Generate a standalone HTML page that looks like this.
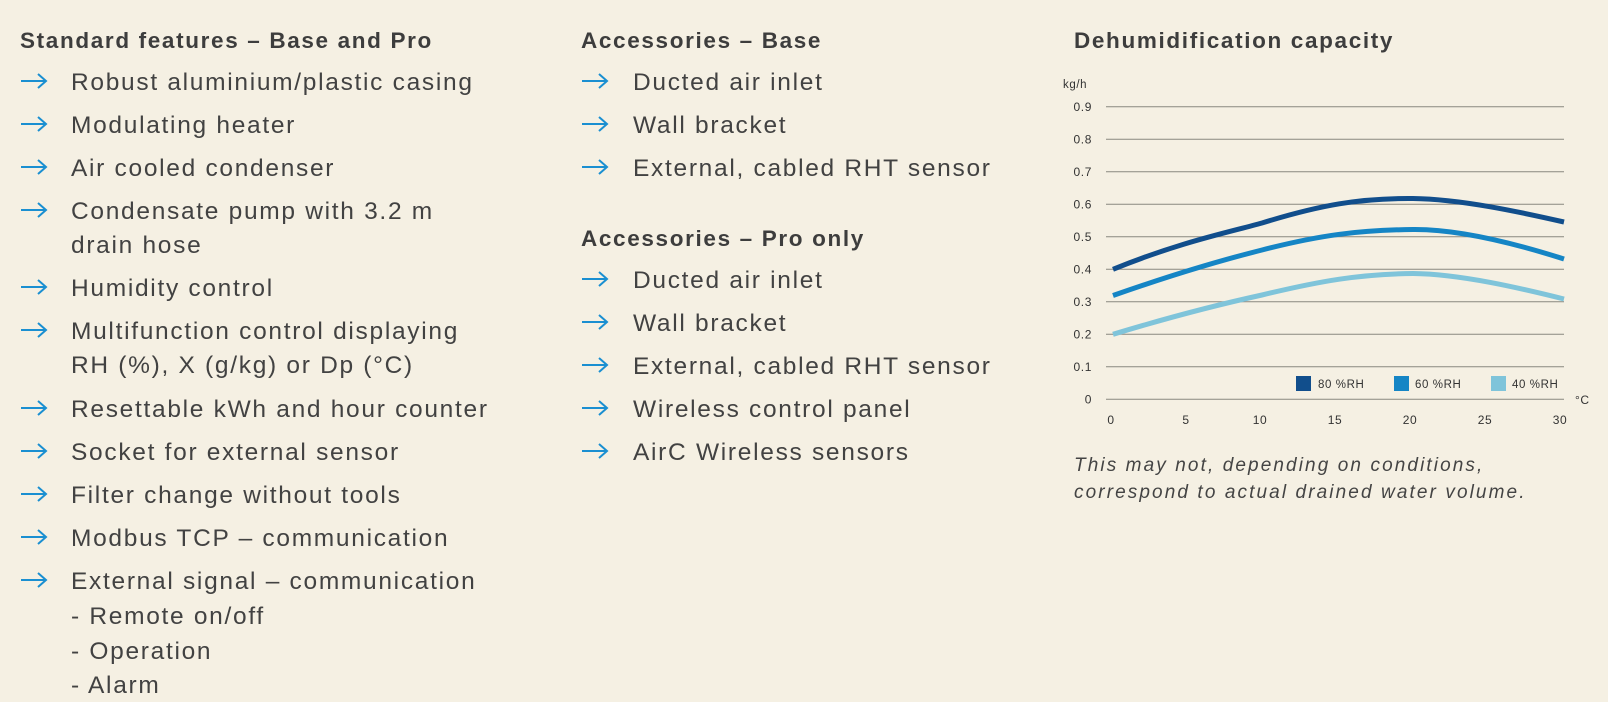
<!DOCTYPE html>
<html><head><meta charset="utf-8"><style>
body{margin:0;width:1608px;height:702px;background:#f5f0e3;font-family:"Liberation Sans",sans-serif;color:#424242;position:relative;overflow:hidden}
.t{position:absolute;height:30px;line-height:30px;white-space:nowrap;font-size:24.5px;letter-spacing:1.7px}
.h{position:absolute;height:30px;line-height:30px;white-space:nowrap;font-size:22.5px;font-weight:bold;color:#3d3d3d;letter-spacing:1.65px}
.a{position:absolute;width:28px;height:16px}
</style></head><body>
<div class="h" style="left:20px;top:26px">Standard features – Base and Pro</div>
<div class="h" style="left:581px;top:26px">Accessories – Base</div>
<div class="h" style="left:581px;top:224px">Accessories – Pro only</div>
<div class="h" style="left:1074px;top:26px">Dehumidification capacity</div>

<svg width="0" height="0" style="position:absolute"><defs><g id="ar"><path d="M1 8H26M18 1L26 8L18 15" fill="none" stroke="#1a8fd1" stroke-width="2"/></g></defs></svg>

<svg class="a" style="left:20px;top:73px"><use href="#ar"/></svg><div class="t" style="left:71px;top:68px">Robust aluminium/plastic casing</div>
<svg class="a" style="left:20px;top:116px"><use href="#ar"/></svg><div class="t" style="left:71px;top:111px">Modulating heater</div>
<svg class="a" style="left:20px;top:159px"><use href="#ar"/></svg><div class="t" style="left:71px;top:154px">Air cooled condenser</div>
<svg class="a" style="left:20px;top:202px"><use href="#ar"/></svg><div class="t" style="left:71px;top:197px">Condensate pump with 3.2 m</div>
<div class="t" style="left:71px;top:231px">drain hose</div>
<svg class="a" style="left:20px;top:279px"><use href="#ar"/></svg><div class="t" style="left:71px;top:274px">Humidity control</div>
<svg class="a" style="left:20px;top:322px"><use href="#ar"/></svg><div class="t" style="left:71px;top:317px">Multifunction control displaying</div>
<div class="t" style="left:71px;top:351px">RH (%), X (g/kg) or Dp (°C)</div>
<svg class="a" style="left:20px;top:400px"><use href="#ar"/></svg><div class="t" style="left:71px;top:395px">Resettable kWh and hour counter</div>
<svg class="a" style="left:20px;top:443px"><use href="#ar"/></svg><div class="t" style="left:71px;top:438px">Socket for external sensor</div>
<svg class="a" style="left:20px;top:486px"><use href="#ar"/></svg><div class="t" style="left:71px;top:481px">Filter change without tools</div>
<svg class="a" style="left:20px;top:529px"><use href="#ar"/></svg><div class="t" style="left:71px;top:524px">Modbus TCP – communication</div>
<svg class="a" style="left:20px;top:572px"><use href="#ar"/></svg><div class="t" style="left:71px;top:567px">External signal – communication</div>
<div class="t" style="left:71px;top:602px">- Remote on/off</div>
<div class="t" style="left:71px;top:637px">- Operation</div>
<div class="t" style="left:71px;top:671px">- Alarm</div>

<svg class="a" style="left:581px;top:73px"><use href="#ar"/></svg><div class="t" style="left:633px;top:68px">Ducted air inlet</div>
<svg class="a" style="left:581px;top:116px"><use href="#ar"/></svg><div class="t" style="left:633px;top:111px">Wall bracket</div>
<svg class="a" style="left:581px;top:159px"><use href="#ar"/></svg><div class="t" style="left:633px;top:154px">External, cabled RHT sensor</div>
<svg class="a" style="left:581px;top:271px"><use href="#ar"/></svg><div class="t" style="left:633px;top:266px">Ducted air inlet</div>
<svg class="a" style="left:581px;top:314px"><use href="#ar"/></svg><div class="t" style="left:633px;top:309px">Wall bracket</div>
<svg class="a" style="left:581px;top:357px"><use href="#ar"/></svg><div class="t" style="left:633px;top:352px">External, cabled RHT sensor</div>
<svg class="a" style="left:581px;top:400px"><use href="#ar"/></svg><div class="t" style="left:633px;top:395px">Wireless control panel</div>
<svg class="a" style="left:581px;top:443px"><use href="#ar"/></svg><div class="t" style="left:633px;top:438px">AirC Wireless sensors</div>

<svg style="position:absolute;left:0;top:0" width="1608" height="702" font-family="Liberation Sans, sans-serif" font-size="12" fill="#333" letter-spacing="0.6">
<g stroke="#8a8780" stroke-width="1">
<line x1="1106" x2="1564" y1="106.7" y2="106.7"/><line x1="1106" x2="1564" y1="139.3" y2="139.3"/>
<line x1="1106" x2="1564" y1="171.8" y2="171.8"/><line x1="1106" x2="1564" y1="204.3" y2="204.3"/>
<line x1="1106" x2="1564" y1="236.8" y2="236.8"/><line x1="1106" x2="1564" y1="269.3" y2="269.3"/>
<line x1="1106" x2="1564" y1="301.8" y2="301.8"/><line x1="1106" x2="1564" y1="334.3" y2="334.3"/>
<line x1="1106" x2="1564" y1="366.8" y2="366.8"/><line x1="1106" x2="1564" y1="399.3" y2="399.3"/>
</g>
<text x="1063" y="88" font-size="11.5">kg/h</text>
<g text-anchor="end">
<text x="1092" y="111">0.9</text><text x="1092" y="143.5">0.8</text><text x="1092" y="176">0.7</text><text x="1092" y="208.5">0.6</text><text x="1092" y="241">0.5</text><text x="1092" y="273.5">0.4</text><text x="1092" y="306">0.3</text><text x="1092" y="338.5">0.2</text><text x="1092" y="371">0.1</text><text x="1092" y="403.5">0</text>
</g>
<g text-anchor="middle">
<text x="1111" y="424">0</text><text x="1186" y="424">5</text><text x="1260" y="424">10</text><text x="1335" y="424">15</text><text x="1410" y="424">20</text><text x="1485" y="424">25</text><text x="1560" y="424">30</text>
</g>
<text x="1575" y="404">°C</text>
<path d="M1113 269.3 C1180 242,1230 232,1262 223 C1320 205,1360 198,1413 198.5 C1460 199,1520 212,1564 222" fill="none" stroke="#114e8c" stroke-width="5"/>
<path d="M1113 295.5 C1180 272,1230 258,1262 250 C1320 235,1360 230,1413 229.5 C1460 229,1520 245,1564 259" fill="none" stroke="#1585c5" stroke-width="5"/>
<path d="M1113 334.3 C1180 314,1230 302,1262 295 C1320 281,1360 274,1413 273.5 C1460 274,1520 288,1564 299" fill="none" stroke="#7fc4da" stroke-width="5"/>
<rect x="1296" y="376" width="15" height="15" fill="#114e8c"/><text x="1318" y="388" font-size="11.5">80 %RH</text>
<rect x="1394" y="376" width="15" height="15" fill="#1585c5"/><text x="1415" y="388" font-size="11.5">60 %RH</text>
<rect x="1491" y="376" width="15" height="15" fill="#7fc4da"/><text x="1512" y="388" font-size="11.5">40 %RH</text>
<g font-style="italic" font-size="19" fill="#444" letter-spacing="2.1">
<text x="1074" y="471">This may not, depending on conditions,</text>
<text x="1074" y="498">correspond to actual drained water volume.</text>
</g>
</svg>
</body></html>
